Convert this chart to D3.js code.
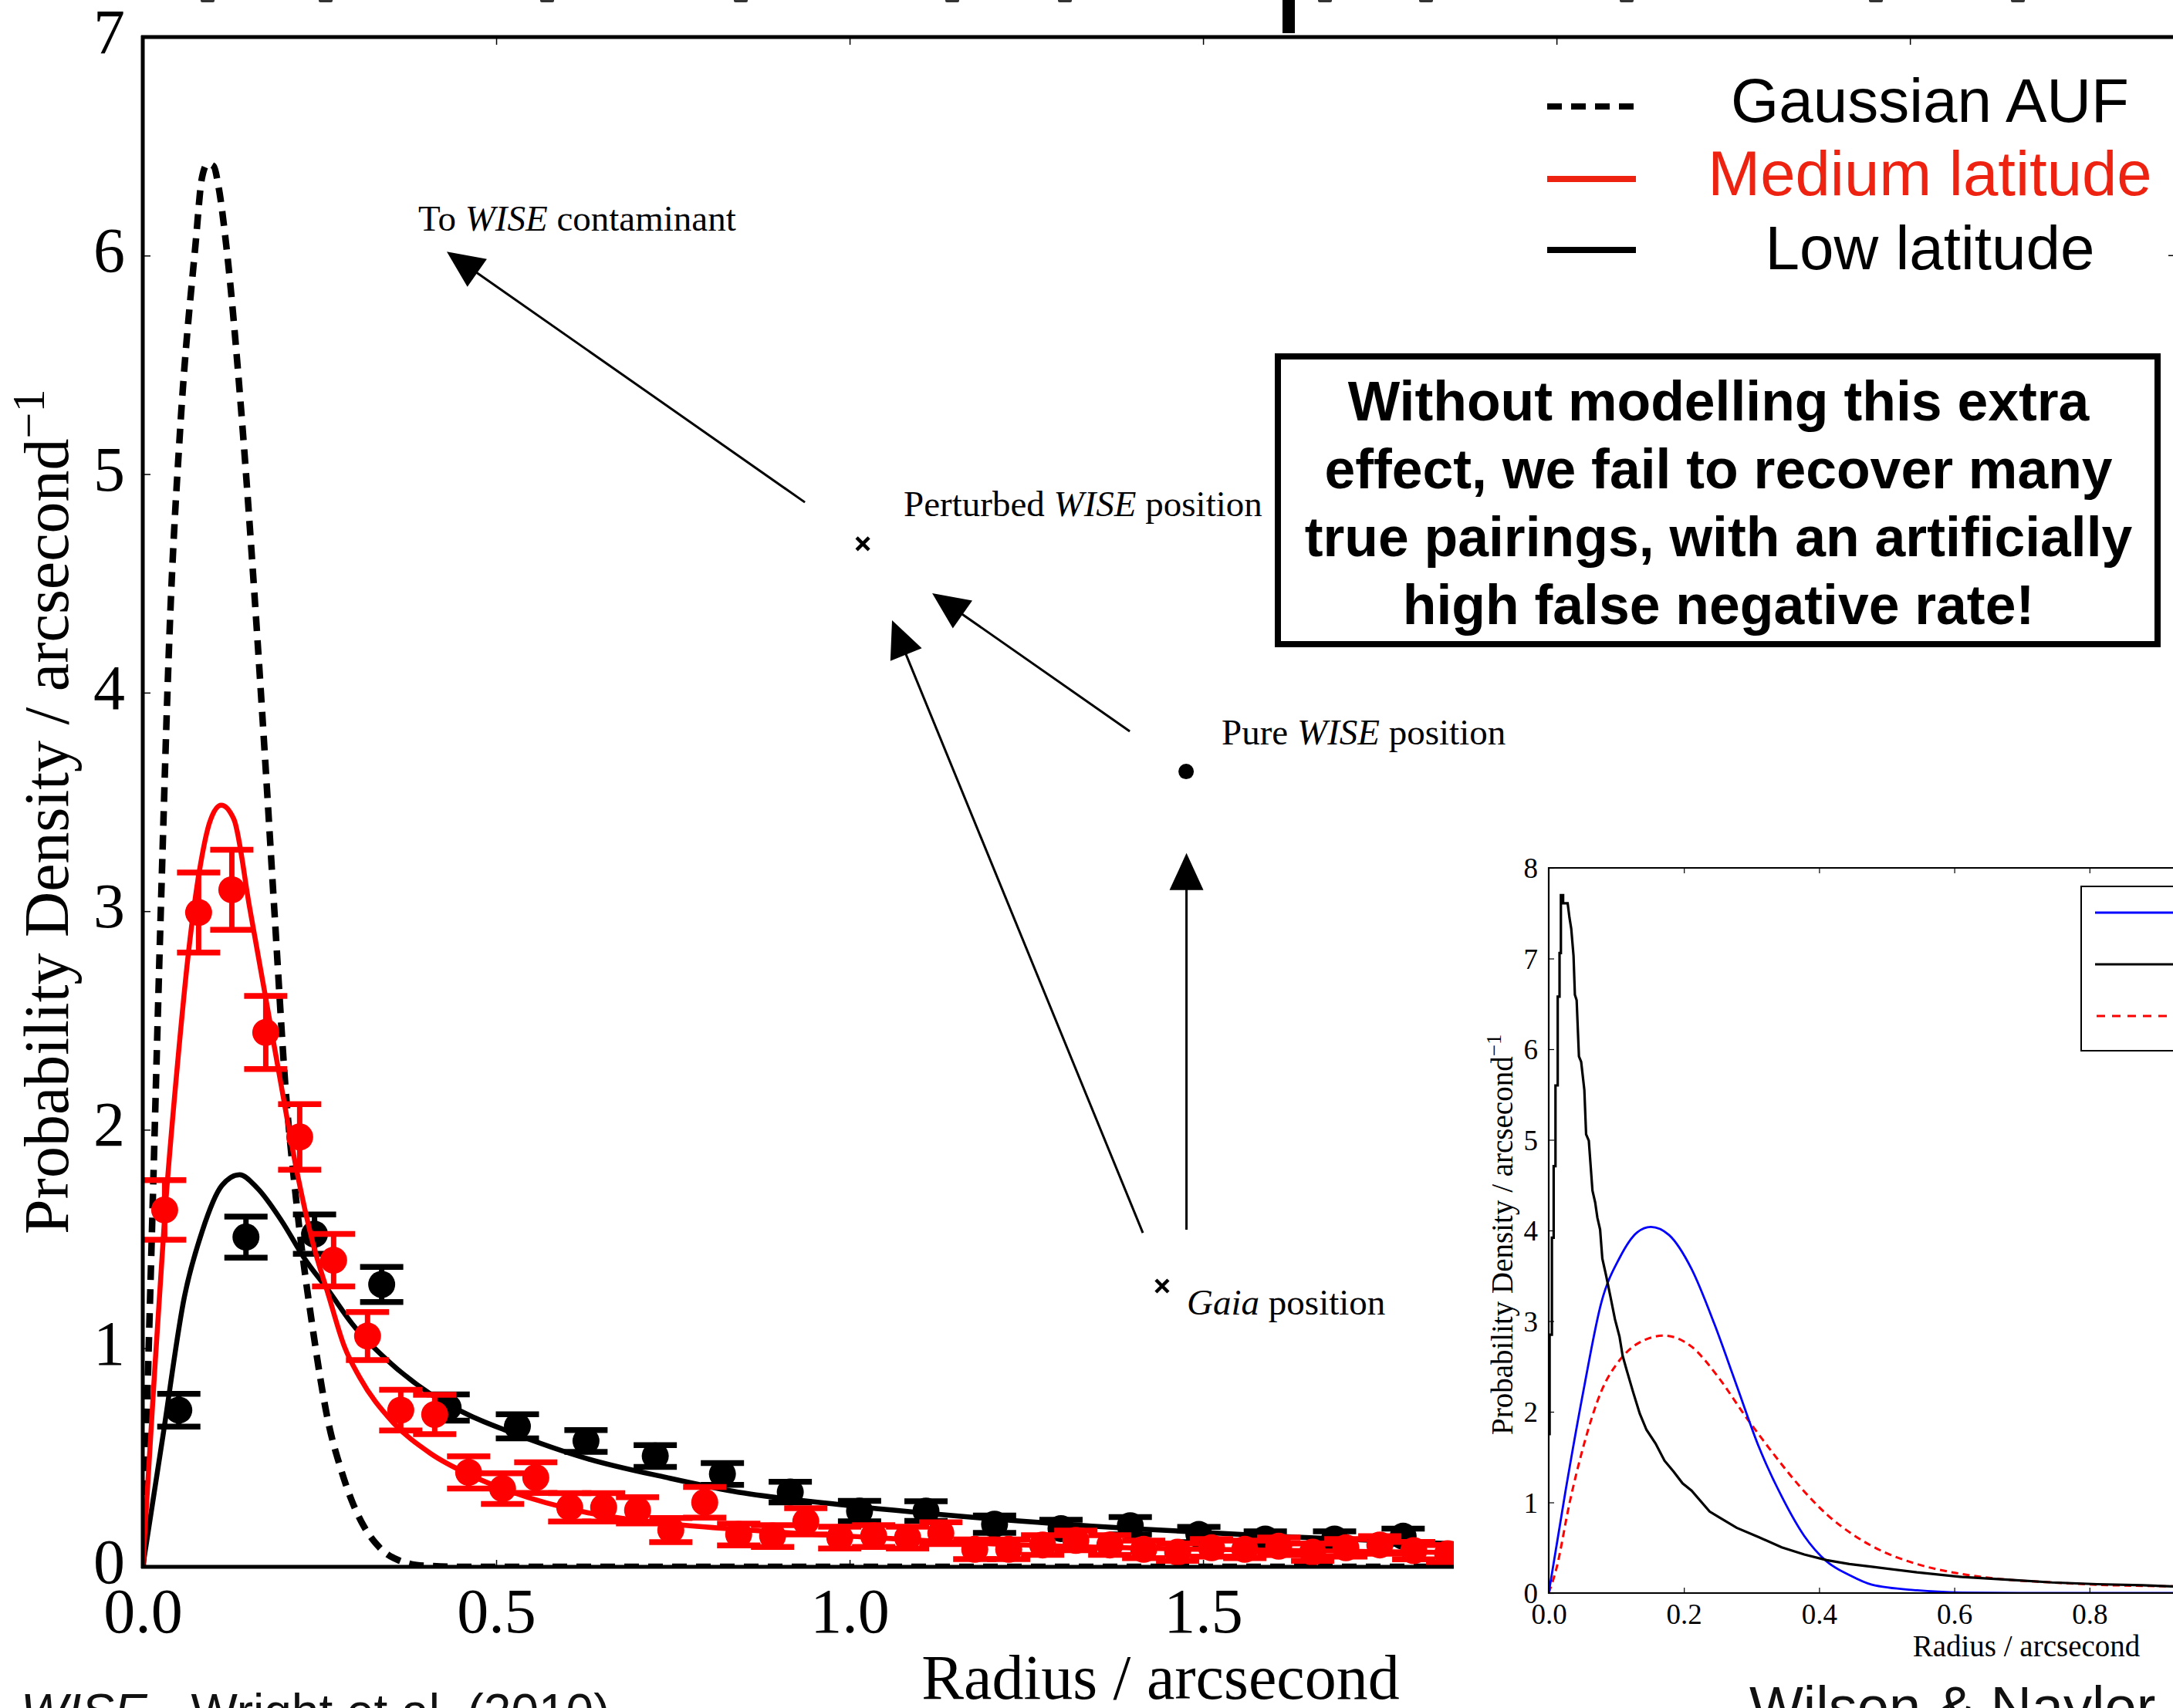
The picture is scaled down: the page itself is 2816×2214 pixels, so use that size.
<!DOCTYPE html>
<html><head><meta charset="utf-8">
<script src="https://cdn.jsdelivr.net/npm/d3@7"></script>
<style>body{margin:0;background:#fff}svg{display:block}</style>
</head><body>
<svg id="c" width="2816" height="2214"></svg>
<script>
// ---------------- DATA ----------------
// Main panel: Gaussian AUF (dashed)
const gaussX = [0,0.005,0.0127,0.0255,0.0382,0.0528,0.0746,0.084,0.092,0.100,0.108,0.118,0.140,0.158,0.173,0.187,0.202,0.218,0.240,0.2626,0.280,0.296,0.312,0.329,0.345,0.362,0.380,0.400,0.450,0.600,1.0,1.5,2.0,2.5,2.9];
const gaussY = [0,0.60,1.50,3.00,4.30,5.20,6.05,6.36,6.42,6.41,6.30,6.05,5.26,4.45,3.70,2.96,2.19,1.65,1.10,0.66,0.45,0.30,0.19,0.11,0.06,0.03,0.012,0.005,0,0,0,0,0,0,0];
// Medium latitude fit (red)
const medFitX = [0,0.015,0.031,0.050,0.065,0.082,0.095,0.111,0.129,0.151,0.173,0.196,0.218,0.240,0.263,0.285,0.307,0.352,0.407,0.463,0.519,0.630,0.742,0.835,1.0,1.217,1.5,1.86,2.2,2.9];
const medFitY = [0,0.80,1.60,2.33,2.82,3.22,3.41,3.485,3.42,3.02,2.62,2.20,1.81,1.49,1.24,1.01,0.866,0.668,0.519,0.42,0.346,0.247,0.198,0.173,0.14,0.103,0.08,0.065,0.05,0.035];
// Low latitude fit (black)
const lowFitX = [0,0.0286,0.059,0.084,0.112,0.137,0.162,0.196,0.229,0.263,0.296,0.352,0.407,0.463,0.519,0.630,0.742,0.835,1.0,1.2,1.4,1.6,1.86,2.2,2.9];
const lowFitY = [0,0.60,1.237,1.535,1.745,1.794,1.733,1.585,1.41,1.263,1.113,0.928,0.791,0.692,0.618,0.494,0.408,0.346,0.28,0.22,0.175,0.14,0.105,0.08,0.05];
// Medium latitude data (red points)
const medX = [0.031,0.079,0.126,0.174,0.222,0.270,0.318,0.365,0.413,0.461,0.509,0.556,0.604,0.652,0.700,0.747,0.795,0.843,0.891,0.938,0.986,1.034,1.082,1.129,1.177,1.225,1.273,1.320,1.368,1.416,1.464,1.512,1.559,1.607,1.655,1.702,1.750,1.798,1.846];
const medY = [1.633,2.994,3.098,2.445,1.967,1.403,1.056,0.717,0.697,0.432,0.358,0.408,0.272,0.272,0.259,0.168,0.295,0.148,0.141,0.208,0.134,0.141,0.134,0.154,0.080,0.080,0.100,0.121,0.100,0.080,0.067,0.087,0.080,0.094,0.067,0.087,0.100,0.074,0.060];
const medErr = [0.136,0.183,0.183,0.167,0.15,0.12,0.11,0.093,0.09,0.074,0.07,0.07,0.065,0.065,0.06,0.055,0.07,0.05,0.05,0.06,0.05,0.05,0.05,0.05,0.045,0.045,0.045,0.045,0.045,0.04,0.04,0.04,0.04,0.04,0.04,0.04,0.04,0.04,0.04];
// Low latitude data (black points)
const lowX = [0.051,0.146,0.243,0.338,0.432,0.530,0.627,0.725,0.820,0.916,1.014,1.108,1.205,1.299,1.397,1.494,1.588,1.686,1.783];
const lowY = [0.717,1.509,1.522,1.292,0.729,0.643,0.576,0.507,0.425,0.342,0.255,0.255,0.195,0.175,0.188,0.148,0.127,0.127,0.140];
const lowErr = [0.075,0.094,0.09,0.08,0.06,0.055,0.05,0.05,0.05,0.047,0.047,0.045,0.04,0.04,0.04,0.035,0.035,0.035,0.035];
// Main axis ticks
const mainXTicks = [0,0.5,1.0,1.5,2.0,2.5];
const mainYTicks = [0,1,2,3,4,5,6,7];
const legendLabels = ["Gaussian AUF","Medium latitude","Low latitude"];
const boxLines = ["Without modelling this extra","effect, we fail to recover many","true pairings, with an artificially","high false negative rate!"];

// Inset: Wilson & Naylor
const insBlueX = [0,0.0247,0.0513,0.078,0.105,0.131,0.151,0.178,0.211,0.245,0.278,0.311,0.345,0.378,0.411,0.445,0.478,0.545,0.611,0.70,1.0];
const insBlueY = [0,1.12,2.23,3.21,3.70,3.98,4.04,3.95,3.58,2.97,2.29,1.61,1.06,0.63,0.35,0.197,0.092,0.03,0.006,0,0];
const insRedX = [0,0.011,0.031,0.051,0.078,0.105,0.131,0.171,0.211,0.251,0.291,0.331,0.371,0.411,0.451,0.491,0.545,0.611,0.678,0.745,0.811,0.923,1.0];
const insRedY = [0,0.26,1.0,1.61,2.23,2.57,2.75,2.84,2.72,2.38,1.95,1.55,1.18,0.87,0.64,0.47,0.32,0.21,0.148,0.117,0.092,0.074,0.065];
const insHistX = [0.0013,0.0013,0.0047,0.0047,0.0073,0.0073,0.010,0.010,0.0133,0.0133,0.016,0.016,0.018,0.018,0.0213,0.0213,0.0247,0.028,0.0307,0.0333,0.0367,0.0387,0.0413,0.0447,0.048,0.0527,0.0553,0.0593,0.0647,0.0687,0.072,0.076,0.0793,0.0847,0.0913,0.098,0.1047,0.1093,0.1153,0.1247,0.1347,0.1447,0.158,0.1713,0.1847,0.198,0.2113,0.238,0.2513,0.278,0.3113,0.3447,0.378,0.4113,0.4447,0.478,0.5447,0.6113,0.678,0.7447,0.8113,0.878,0.923,1.0];
const insHistY = [1.74,2.85,2.85,3.92,3.92,4.71,4.71,5.60,5.60,6.58,6.58,7.06,7.06,7.70,7.70,7.61,7.61,7.61,7.45,7.33,7.03,6.60,6.54,5.92,5.86,5.55,5.06,4.99,4.44,4.31,4.14,4.01,3.69,3.51,3.27,3.02,2.83,2.62,2.46,2.22,1.98,1.80,1.65,1.46,1.34,1.21,1.13,0.90,0.84,0.72,0.615,0.505,0.425,0.363,0.32,0.29,0.228,0.178,0.148,0.117,0.098,0.086,0.074,0.065];
const insXTicks = [0,0.2,0.4,0.6,0.8];
const insYTicks = [0,1,2,3,4,5,6,7,8];

// Stray marks from a cropped panel above
const topMarksX = [269,422,709,960,1234,1380,1717,1848,2108,2431,2615];

// ---------------- DRAW ----------------
const SERIF = "'Liberation Serif','Times New Roman',serif";
const SANS = "'Liberation Sans',Arial,Helvetica,sans-serif";
const RED = "#ff0000";
const svg = d3.select('#c');
svg.append('rect').attr('width',2816).attr('height',2214).attr('fill','#fff');

// top remnants
svg.append('rect').attr('x',1662).attr('y',0).attr('width',16).attr('height',43).attr('fill','#000');
svg.selectAll('.tm').data(topMarksX).enter().append('rect').attr('class','tm')
  .attr('x',d=>d-9).attr('y',-2).attr('width',18).attr('height',5).attr('rx',2).attr('fill','#333');

const x = d3.scaleLinear().domain([0,2.883]).range([185,2826]);
const y = d3.scaleLinear().domain([0,7]).range([2031,48]);

svg.append('clipPath').attr('id','mainclip').append('rect')
  .attr('x',185).attr('y',48).attr('width',2826-185).attr('height',2031-48);
const plot = svg.append('g').attr('clip-path','url(#mainclip)');

const line = d3.line().x(d=>x(d[0])).y(d=>y(d[1])).curve(d3.curveMonotoneX);
plot.append('path').attr('d',line(d3.zip(gaussX,gaussY))).attr('fill','none')
  .attr('stroke','#000').attr('stroke-width',8.5).attr('stroke-dasharray','19,12');

function errPts(g, xs, ys, es, col){
  const data = xs.map((v,i)=>({x:v,y:ys[i],e:es[i]}));
  const gg = g.append('g');
  gg.selectAll('.v').data(data).enter().append('line')
    .attr('x1',d=>x(d.x)).attr('x2',d=>x(d.x)).attr('y1',d=>y(d.y-d.e)).attr('y2',d=>y(d.y+d.e))
    .attr('stroke',col).attr('stroke-width',7);
  ['t','b'].forEach(k=>{
    gg.selectAll('.c'+k).data(data).enter().append('line')
      .attr('x1',d=>x(d.x)-28).attr('x2',d=>x(d.x)+28)
      .attr('y1',d=>y(k==='t'?d.y+d.e:d.y-d.e)).attr('y2',d=>y(k==='t'?d.y+d.e:d.y-d.e))
      .attr('stroke',col).attr('stroke-width',7.5);
  });
  gg.selectAll('circle').data(data).enter().append('circle')
    .attr('cx',d=>x(d.x)).attr('cy',d=>y(d.y)).attr('r',17.5).attr('fill',col);
}
errPts(plot, lowX, lowY, lowErr, '#000');
plot.append('path').attr('d',line(d3.zip(lowFitX,lowFitY))).attr('fill','none')
  .attr('stroke','#000').attr('stroke-width',6.5);
errPts(plot, medX, medY, medErr, RED);
plot.append('path').attr('d',line(d3.zip(medFitX,medFitY))).attr('fill','none')
  .attr('stroke',RED).attr('stroke-width',6.5);

// spines
const sp = svg.append('g').attr('stroke','#000').attr('stroke-width',5);
sp.append('line').attr('x1',185).attr('x2',185).attr('y1',46).attr('y2',2033);
sp.append('line').attr('x1',183).attr('x2',2816).attr('y1',48).attr('y2',48);
sp.append('line').attr('x1',183).attr('x2',2826).attr('y1',2031).attr('y2',2031);
svg.append('line').attr('x1',2810).attr('x2',2826).attr('y1',y(6)).attr('y2',y(6)).attr('stroke','#000').attr('stroke-width',1.5);

// axes
const gxb = svg.append('g').attr('transform',`translate(0,${y(0)})`)
  .call(d3.axisBottom(x).tickValues(mainXTicks).tickFormat(d3.format('.1f')).tickSize(-9).tickPadding(0));
const gxt = svg.append('g').attr('transform',`translate(0,${y(7)})`)
  .call(d3.axisTop(x).tickValues(mainXTicks.slice(1)).tickFormat('').tickSize(-10));
const gyl = svg.append('g').attr('transform',`translate(${x(0)},0)`)
  .call(d3.axisLeft(y).tickValues(mainYTicks).tickFormat(d3.format('d')).tickSize(-10));
[gxb,gxt,gyl].forEach(g=>{g.select('.domain').remove(); g.selectAll('.tick line').attr('stroke','#000').attr('stroke-width',1.5);});
gxb.selectAll('text').attr('y',85).attr('dy',null).attr('fill','#000')
  .style('font-family',SERIF).style('font-size','82px');
gyl.selectAll('text').attr('x',-23).attr('dy','0.25em').attr('fill','#000')
  .style('font-family',SERIF).style('font-size','82px');
gyl.selectAll('.tick').filter(d=>d===7).select('line').remove();

// axis titles
svg.append('text').attr('x',1504).attr('y',2202).attr('text-anchor','middle')
  .style('font-family',SERIF).style('font-size','82px').text('Radius / arcsecond');
const yt = svg.append('text').attr('transform','translate(88,1600) rotate(-90)')
  .style('font-family',SERIF).style('font-size','82px');
yt.append('tspan').text('Probability Density / arcsecond');
yt.append('tspan').attr('dy',-31).style('font-size','60px').text('\u22121');

// annotations (in data coordinates)
const ann = svg.append('g');
function arrow(x1,y1,x2,y2){
  const X1=x(x1),Y1=y(y1),X2=x(x2),Y2=y(y2);
  const L=Math.hypot(X2-X1,Y2-Y1), ux=(X2-X1)/L, uy=(Y2-Y1)/L;
  const hl=48, hw=22;
  const bx=X2-ux*hl, by=Y2-uy*hl;
  ann.append('line').attr('x1',X1).attr('y1',Y1).attr('x2',bx+ux*4).attr('y2',by+uy*4)
    .attr('stroke','#000').attr('stroke-width',3);
  ann.append('path').attr('d',`M${X2},${Y2}L${bx-uy*hw},${by+ux*hw}L${bx+uy*hw},${by-ux*hw}Z`).attr('fill','#000');
}
arrow(0.9367,4.871,0.4301,6.018);
arrow(1.3963,3.823,1.1168,4.455);
arrow(1.4148,1.528,1.0600,4.331);
arrow(1.4765,1.543,1.4765,3.266);
function cross(xd,yd){
  const X=x(xd),Y=y(yd),s=8;
  ann.append('path').attr('d',`M${X-s},${Y-s}L${X+s},${Y+s}M${X-s},${Y+s}L${X+s},${Y-s}`)
    .attr('stroke','#000').attr('stroke-width',4.5);
}
cross(1.0186,4.681);
cross(1.442,1.285);
ann.append('circle').attr('cx',x(1.476)).attr('cy',y(3.639)).attr('r',10).attr('fill','#000');
function annText(xd,yd,parts){
  const t=ann.append('text').attr('x',x(xd)).attr('y',y(yd)).style('font-family',SERIF).style('font-size','47px');
  parts.forEach(p=>t.append('tspan').style('font-style',p[1]?'italic':'normal').text(p[0]));
}
annText(0.3897,6.114,[['To ',0],['WISE',1],[' contaminant',0]]);
annText(1.0764,4.808,[['Perturbed ',0],['WISE',1],[' position',0]]);
annText(1.5262,3.763,[['Pure ',0],['WISE',1],[' position',0]]);
annText(1.4771,1.154,[['Gaia',1],[' position',0]]);

// legend
const leg = svg.append('g');
const legY = [138,232,324], legCol = ['#000','#ee2211','#000'], legTY=[158,253,349];
leg.append('line').attr('x1',2005).attr('x2',2124).attr('y1',legY[0]).attr('y2',legY[0])
  .attr('stroke','#000').attr('stroke-width',8).attr('stroke-dasharray','19,12');
[1,2].forEach(i=>leg.append('line').attr('x1',2005).attr('x2',2120).attr('y1',legY[i]).attr('y2',legY[i])
  .attr('stroke',legCol[i]).attr('stroke-width',8));
legendLabels.forEach((s,i)=>leg.append('text').attr('x',2501).attr('y',legTY[i]).attr('text-anchor','middle')
  .attr('fill',legCol[i]).style('font-family',SANS).style('font-size',i===1?'81.5px':'80px').text(s));

// text box
svg.append('rect').attr('x',1656).attr('y',462).attr('width',1140).attr('height',373)
  .attr('fill','#fff').attr('stroke','#000').attr('stroke-width',8);
boxLines.forEach((s,i)=>svg.append('text').attr('x',2227).attr('y',545+i*88).attr('text-anchor','middle')
  .style('font-family',SANS).style('font-weight','bold').style('font-size','71.5px').text(s));

// ---------------- INSET ----------------
svg.append('rect').attr('x',1884).attr('y',1062).attr('width',2816-1884).attr('height',2214-1062).attr('fill','#fff');
const ix = d3.scaleLinear().domain([0,1]).range([2007,2883]);
const iy = d3.scaleLinear().domain([0,8]).range([2065,1125]);
svg.append('clipPath').attr('id','insclip').append('rect')
  .attr('x',2007).attr('y',1125).attr('width',876).attr('height',940);
const ip = svg.append('g').attr('clip-path','url(#insclip)');
const iline = d3.line().x(d=>ix(d[0])).y(d=>iy(d[1]));
ip.append('path').attr('d',iline.curve(d3.curveMonotoneX)(d3.zip(insRedX,insRedY))).attr('fill','none')
  .attr('stroke','#ff0000').attr('stroke-width',3).attr('stroke-dasharray','9,6');
ip.append('path').attr('d',iline.curve(d3.curveMonotoneX)(d3.zip(insBlueX,insBlueY))).attr('fill','none')
  .attr('stroke','#0000ff').attr('stroke-width',2.8);
ip.append('path').attr('d',d3.line().x(d=>ix(d[0])).y(d=>iy(d[1]))(d3.zip(insHistX,insHistY))).attr('fill','none')
  .attr('stroke','#000').attr('stroke-width',3.2).attr('stroke-linejoin','miter');

const isp = svg.append('g').attr('stroke','#000').attr('stroke-width',2.2);
isp.append('line').attr('x1',2007).attr('x2',2007).attr('y1',1124).attr('y2',2066);
isp.append('line').attr('x1',2006).attr('x2',2816).attr('y1',1125).attr('y2',1125);
isp.append('line').attr('x1',2006).attr('x2',2816).attr('y1',2065).attr('y2',2065);
const ixb = svg.append('g').attr('transform',`translate(0,${iy(0)})`)
  .call(d3.axisBottom(ix).tickValues(insXTicks).tickFormat(d3.format('.1f')).tickSize(-7));
const ixt = svg.append('g').attr('transform',`translate(0,${iy(8)})`)
  .call(d3.axisTop(ix).tickValues(insXTicks.slice(1)).tickFormat('').tickSize(-7));
const iyl = svg.append('g').attr('transform',`translate(${ix(0)},0)`)
  .call(d3.axisLeft(iy).tickValues(insYTicks).tickFormat(d3.format('d')).tickSize(-7));
[ixb,ixt,iyl].forEach(g=>{g.select('.domain').remove(); g.selectAll('.tick line').attr('stroke','#000').attr('stroke-width',1.2);});
ixb.selectAll('text').attr('y',40).attr('dy',null).attr('fill','#000').style('font-family',SERIF).style('font-size','37px');
iyl.selectAll('text').attr('x',-14).attr('dy','0.35em').attr('fill','#000').style('font-family',SERIF).style('font-size','37px');
svg.append('text').attr('x',2626).attr('y',2147).attr('text-anchor','middle')
  .style('font-family',SERIF).style('font-size','39px').text('Radius / arcsecond');
const iyt = svg.append('text').attr('transform','translate(1960,1860) rotate(-90)')
  .style('font-family',SERIF).style('font-size','39px');
iyt.append('tspan').text('Probability Density / arcsecond');
iyt.append('tspan').attr('dy',-15).style('font-size','27px').text('\u22121');
// inset legend box
svg.append('rect').attr('x',2697).attr('y',1149).attr('width',200).attr('height',213)
  .attr('fill','#fff').attr('stroke','#000').attr('stroke-width',2);
svg.append('line').attr('x1',2715).attr('x2',2816).attr('y1',1183).attr('y2',1183).attr('stroke','#0000ff').attr('stroke-width',3);
svg.append('line').attr('x1',2715).attr('x2',2816).attr('y1',1250).attr('y2',1250).attr('stroke','#000').attr('stroke-width',3);
svg.append('line').attr('x1',2717).attr('x2',2816).attr('y1',1317).attr('y2',1317).attr('stroke','#ff0000').attr('stroke-width',3).attr('stroke-dasharray','11,9');

// credits
const c1 = svg.append('text').attr('x',27).attr('y',2241).style('font-family',SANS).style('font-size','64px').attr('fill','#111');
c1.append('tspan').style('font-style','italic').text('WISE');
c1.append('tspan').text(' - Wright et al. (2010)');
svg.append('text').attr('x',2267).attr('y',2238).style('font-family',SANS).style('font-size','74px').attr('fill','#111')
  .text('Wilson & Naylor (2018)');
</script>
</body></html>
